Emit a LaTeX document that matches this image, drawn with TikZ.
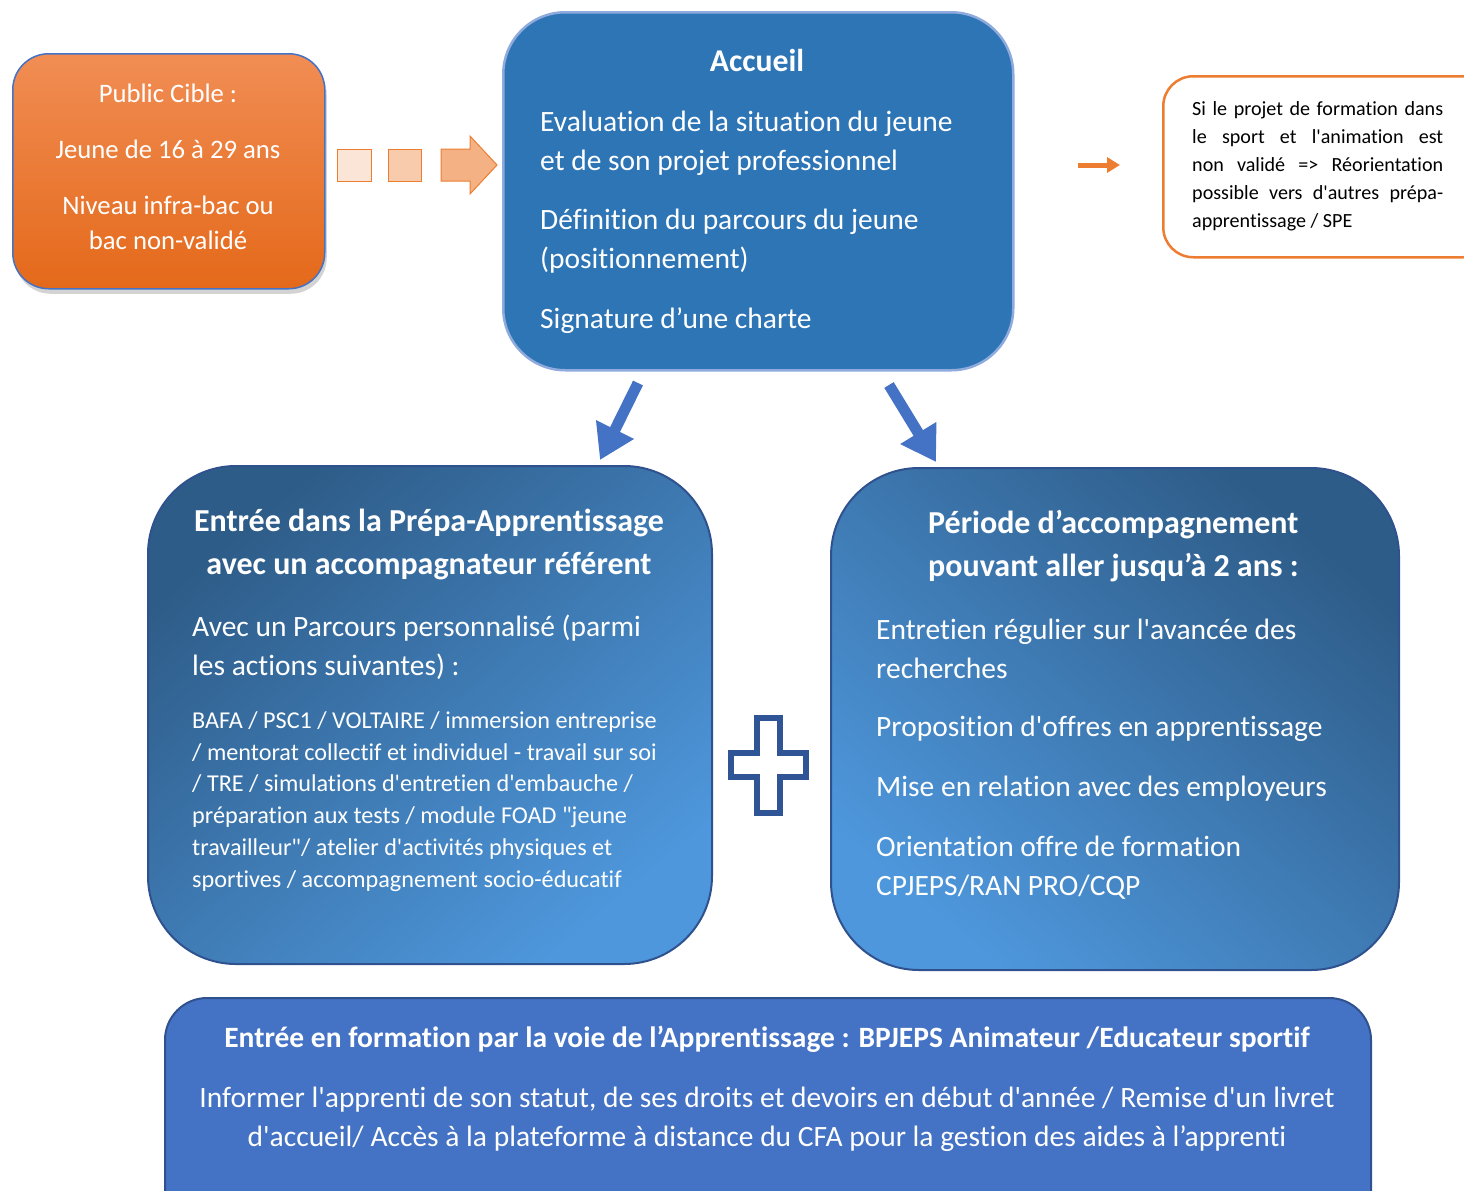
\documentclass[tikz,border=0pt]{standalone}
\usepackage{fontspec}
\setmainfont{Carlito}[Ligatures={TeXOff,NoCommon}]
\usetikzlibrary{shadows,arrows.meta,calc}
\definecolor{orTop}{HTML}{F18D54}
\definecolor{orBot}{HTML}{E4691A}
\definecolor{orLine}{HTML}{ED7D31}
\definecolor{sqA}{HTML}{FBE5D6}
\definecolor{sqB}{HTML}{F8CBAD}
\definecolor{sqC}{HTML}{F4B183}
\definecolor{accFill}{HTML}{2E75B6}
\definecolor{accLine}{HTML}{8FAADC}
\definecolor{bDark}{HTML}{2E5C88}
\definecolor{bLight}{HTML}{4E97DC}
\definecolor{bLine}{HTML}{2F528F}
\definecolor{bArrow}{HTML}{4472C4}
\definecolor{plusC}{HTML}{2F5597}
\definecolor{botFill}{HTML}{4472C4}
\newcommand\jline[1]{\leavevmode\hbox to 251pt{\spaceskip=0.226em plus 1fil\relax #1}}
\tikzset{
  boxbase/.style={anchor=north west, inner sep=0pt},
  wtext/.style={text=white, inner sep=0pt},
  f24/.style={font=\fontsize{26.7}{35}\selectfont},
  f26/.style={font=\fontsize{29.5}{39}\selectfont},
  f26b/.style={font=\fontsize{32}{43}\selectfont\bfseries},
  f22/.style={font=\fontsize{24.2}{31.8}\selectfont},
  f19/.style={font=\fontsize{20.1}{28}\selectfont},
  bigarrow/.style={line width=11pt, bArrow, -{Triangle[length=34pt,width=40pt]}},
}
\begin{document}
\begin{tikzpicture}[x=1pt,y=-1pt]
\useasboundingbox (0,0) rectangle (1464,1191);
\clip (0,0) rectangle (1464,1191);

% Public cible
\node[boxbase, draw=bArrow, line width=1.5pt, rounded corners=36pt,
      minimum width=312pt, minimum height=235pt,
      top color=orTop, bottom color=orBot,
      drop shadow={shadow xshift=2pt, shadow yshift=-5pt, opacity=0.35}] (public) at (12,53) {};
\node[wtext, f24, align=center, anchor=north] (publictxt) at (168,83.5)
  {Public Cible :\\[21pt]Jeune de 16 à 29 ans\\[21pt]Niveau infra-bac ou\\bac non-validé};

% Accueil
\node[boxbase, draw=accLine, line width=2.5pt, rounded corners=62pt,
      minimum width=510pt, minimum height=358pt, fill=accFill] (accueil) at (502,11) {};
\node[wtext, font=\fontsize{31.7}{38}\selectfont\bfseries] (acctitle) at (757,60) {Accueil};
\node[wtext, f26, align=left, anchor=west] (acc1) at (540,143) {Evaluation de la situation du jeune\\et de son projet professionnel};
\node[wtext, f26, align=left, anchor=west] (acc2) at (540,241) {Définition du parcours du jeune\\(positionnement)};
\node[wtext, f26, align=left, anchor=west] (acc3) at (540,320.5) {Signature d’une charte};

% dashed orange arrow between public and accueil
\draw[orLine, line width=1pt, fill=sqA] (337,149) rectangle (371,181);
\draw[orLine, line width=1pt, fill=sqB] (388,149) rectangle (421,181);
\draw[orLine, line width=1pt, fill=sqC] (441,149) -- (470,149) -- (470,136) -- (497,165)
   -- (470,194) -- (470,181) -- (441,181) -- cycle;

% Reorientation box
\node[boxbase, draw=orLine, line width=2.5pt, rounded corners=30pt,
      minimum width=330pt, minimum height=181pt, fill=white] (reor) at (1162,75) {};
\node[inner sep=0pt, f19, anchor=north west, align=left] (reortxt) at (1192,101)
  {\jline{Si le projet de formation dans}\\
   \jline{le sport et l'animation est}\\
   \jline{non validé => Réorientation}\\
   \jline{possible vers d'autres prépa-}\\
   apprentissage / SPE};
\coordinate (oa1) at (1078,165);
\coordinate (oa2) at (1120,165);
\draw[orLine, line width=5pt, -{Triangle[length=13pt,width=15pt]}] (oa1) -- (oa2);

% Left big box
\node[boxbase, draw=bLine, line width=2pt, rounded corners=88pt,
      minimum width=564pt, minimum height=498pt,
      top color=bDark, bottom color=bLight, shading angle=40] (prepa) at (147,465) {};
\node[wtext, f26b, align=center] (prepatitle) at (429,544) {Entrée dans la Prépa-Apprentissage\\avec un accompagnateur référent};
\node[wtext, f26, align=left, anchor=west] (prepa1) at (192,647) {Avec un Parcours personnalisé (parmi\\les actions suivantes) :};
\node[wtext, f22, align=left, anchor=west] (prepa2) at (192,801.5)
  {BAFA / PSC1 / VOLTAIRE / immersion entreprise\\
   / mentorat collectif et individuel - travail sur soi\\
   / TRE / simulations d'entretien d'embauche /\\
   préparation aux tests / module FOAD "jeune\\
   travailleur"/ atelier d'activités physiques et\\
   sportives / accompagnement socio-éducatif};

% Right big box
\node[boxbase, draw=bLine, line width=2pt, rounded corners=88pt,
      minimum width=568pt, minimum height=502pt,
      top color=bDark, bottom color=bLight, shading angle=-40] (accomp) at (830,467) {};
\node[wtext, f26b, align=left, anchor=west] (accomptitle) at (928,546.5) {Période d’accompagnement\\pouvant aller jusqu’à 2 ans :};
\node[wtext, f26, align=left, anchor=west] (ac1) at (876,649) {Entretien régulier sur l'avancée des\\recherches};
\node[wtext, f26, anchor=west] (ac2) at (876,728.5) {Proposition d'offres en apprentissage};
\node[wtext, f26, anchor=west] (ac3) at (876,788.5) {Mise en relation avec des employeurs};
\node[wtext, f26, align=left, anchor=west] (ac4) at (876,868) {Orientation offre de formation\\CPJEPS/RAN PRO/CQP};

% Blue arrows
\coordinate (la1) at (638,383);
\coordinate (la2) at (600,460);
\coordinate (ra1) at (889,385);
\coordinate (ra2) at (936,462);
\draw[bigarrow] (la1) -- (la2);
\draw[bigarrow] (ra1) -- (ra2);

% plus sign
\draw[plusC, line width=6pt, fill=white] (757,718) -- (780,718) -- (780,753) -- (806,753)
  -- (806,777) -- (780,777) -- (780,813) -- (757,813) -- (757,777) -- (731,777)
  -- (731,753) -- (757,753) -- cycle;

% bottom box
\node[boxbase, draw=bLine, line width=2pt, rounded corners=42pt,
      minimum width=1206pt, minimum height=260pt, fill=botFill] (bpjeps) at (164,997) {};
\node[wtext, font=\fontsize{29.5}{39}\selectfont\bfseries] (bottitle) at (767,1039)
  {Entrée en formation par la voie de l’Apprentissage : BPJEPS Animateur /Educateur sportif};
\node[wtext, f26, align=center] (bottxt) at (767,1119)
  {Informer l'apprenti de son statut, de ses droits et devoirs en début d'année / Remise d'un livret\\
   d'accueil/ Accès à la plateforme à distance du CFA pour la gestion des aides à l’apprenti};
\end{tikzpicture}
\end{document}
